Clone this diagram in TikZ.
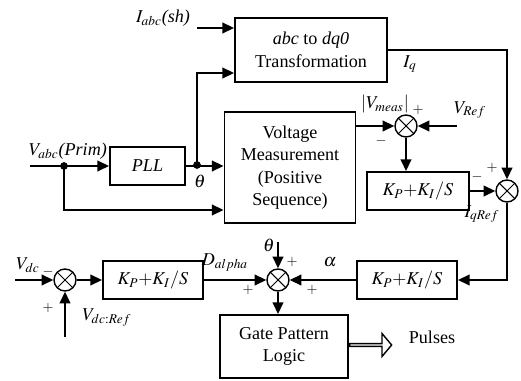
\documentclass[tikz,border=0pt]{standalone}
\usepackage{mathptmx}
\usepackage{fontspec}
\setmainfont{Liberation Serif}
\usepackage{tikz}
\usetikzlibrary{arrows.meta,calc,shapes.arrows}
\tikzset{
  blk/.style={draw, line width=1.1pt, align=center, inner sep=1pt},
  sm/.style={draw, circle, line width=0.8pt, minimum size=0.44cm, inner sep=0pt,
    path picture={\draw[line width=0.6pt]
      (path picture bounding box.north west) -- (path picture bounding box.south east)
      (path picture bounding box.north east) -- (path picture bounding box.south west);}},
  sig/.style={-{Triangle[length=6.6pt,width=6pt]}, line width=1.1pt},
  pm/.style={inner sep=0pt, font=\footnotesize},
}

\begin{document}
\begin{tikzpicture}[x=0.02cm, y=-0.02cm, font=\fontsize{10.3}{12.8}\selectfont]
  \useasboundingbox (0,0) rectangle (521,381);
  % blocks
  \node[blk, minimum width=3.04cm, minimum height=1.28cm] (abc) at (311,50) {\textit{abc} to \textit{dq0}\\Transformation};
  \node[blk, minimum width=1.5cm, minimum height=0.76cm] (pll) at (147.5,166) {\textit{PLL}};
  \node[blk, minimum width=2.62cm, minimum height=2.22cm] (vm) at (290,167.5) {Voltage\\Measurement\\(Positive\\Sequence)};
  \node[blk, minimum width=2.04cm, minimum height=0.76cm] (pi1) at (418,191) {$K_P{+}K_I/S$};
  \node[blk, minimum width=2.0cm, minimum height=0.76cm] (pi2) at (407,280) {$K_P{+}K_I/S$};
  \node[blk, minimum width=2.0cm, minimum height=0.76cm] (pi3) at (153,280) {$K_P{+}K_I/S$};
  \node[blk, minimum width=2.56cm, minimum height=1.26cm] (gate) at (284,346.5) {Gate Pattern\\Logic};
  % summing junctions
  \node[sm] (s1) at (406,126) {};
  \node[sm] (s2) at (507,191) {};
  \node[sm] (s3) at (278,280) {};
  \node[sm] (s4) at (65,280) {};
  % free ends and taps
  \coordinate (iin) at (197,28);
  \coordinate (th) at (197,165);
  \coordinate (vin) at (30,166);
  \coordinate (vd) at (64,166);
  \coordinate (vref) at (457,126);
  \coordinate (t3) at (278,242);
  \coordinate (vdc) at (15,280);
  \coordinate (vdcr) at (65,337);

  % signal paths
  \draw[sig] (iin) -- (abc.west |- iin);
  \draw[sig] (th) |- (abc.west |- 0,73);
  \draw[sig] (vin) -- (pll.west);
  \draw[sig] (pll.east) -- (vm.west |- pll.east);
  \draw[sig] (vd) |- (vm.west |- 0,210);
  \fill (vd) circle (2.2pt);
  \fill (th) circle (2.2pt);
  \draw[sig] (vm.east |- s1) -- (s1.west);
  \draw[sig] (vref) -- (s1.east);
  \draw[sig] (s1.south) -- (s1.south |- pi1.north);
  \draw[sig] (abc.east |- 0,50) -| (s2.north);
  \draw[sig] (pi1.east) -- (s2.west);
  \draw[sig] (s2.south) |- (pi2.east);
  \draw[sig] (pi2.west) -- (s3.east);
  \draw[sig] (t3) -- (s3.north);
  \draw[sig] (s3.south) -- (s3.south |- gate.north);
  \draw[sig] (pi3.east) -- (s3.west);
  \draw[sig] (vdc) -- (s4.west);
  \draw[sig] (vdcr) -- (s4.south);
  \draw[sig] (s4.east) -- (pi3.west);
  \node[single arrow, draw, line width=0.8pt, anchor=tail, inner sep=0pt,
    minimum height=0.84cm, minimum width=0.46cm, single arrow head extend=0.11cm,
    single arrow tip angle=100] (pls) at (gate.east |- 0,345) {};

  % labels
  \node (lia) at (163,18) {$I_{abc}$\textit{(sh)}};
  \node (lva) at (68,151) {$V_{abc}$\textit{(Prim)}};
  \node (lth) at (200,181) {$\theta$};
  \node (lvm) at (385,104) {$\left|V_{meas}\right|$};
  \node[pm] at (418,110) {$+$};
  \node[pm] at (381,141) {$-$};
  \node (lvr) at (470,110) {$V_{Ref}$};
  \node (liq) at (410,64) {$I_q$};
  \node[pm] at (492,168) {$+$};
  \node[pm] at (477,177) {$-$};
  \node (liqr) at (482,214) {$I_{qRef}$};
  \node (lal) at (330,262) {$\alpha$};
  \node (lt3) at (269,245) {$\theta$};
  \node[pm] at (292,262) {$+$};
  \node[pm] at (312,290) {$+$};
  \node (lda) at (225,262) {$D_{alpha}$};
  \node[pm] at (248,290) {$+$};
  \node (lvdc) at (28,265) {$V_{dc}$};
  \node[pm] at (48,272) {$-$};
  \node[pm] at (48,308) {$+$};
  \node (lvdr) at (107,318) {$V_{dc:Ref}$};
  \node (lpl) at (432,337) {Pulses};
\end{tikzpicture}
\end{document}
